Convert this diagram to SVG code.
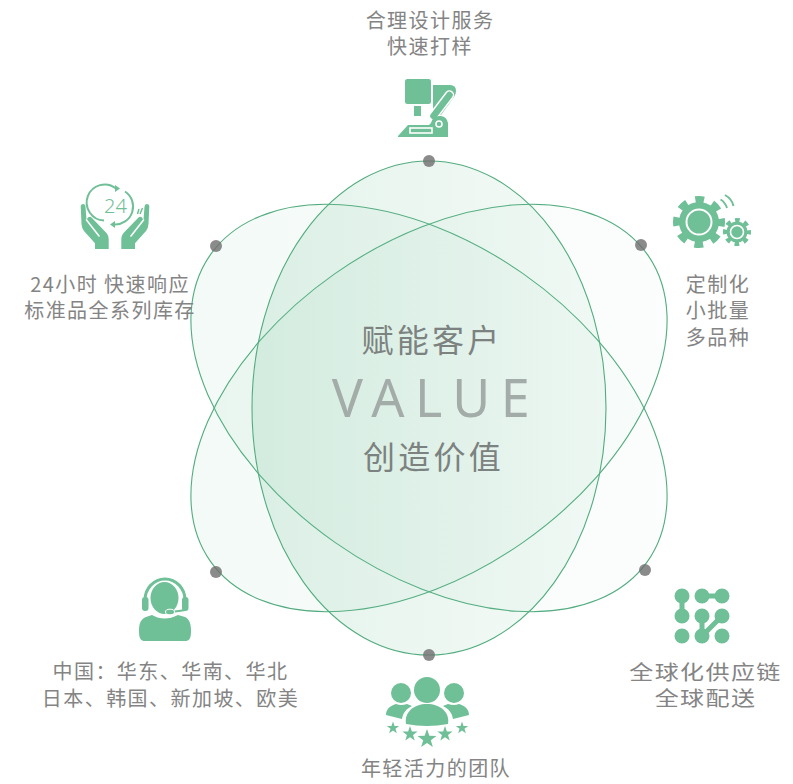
<svg xmlns="http://www.w3.org/2000/svg" width="793" height="784" viewBox="0 0 793 784">
<style>
.t{font-family:"Noto Sans CJK SC","Noto Sans",sans-serif;font-size:20px;letter-spacing:1.45px;fill:#848484;text-anchor:middle;font-weight:400}
.c{font-size:32px;letter-spacing:3.2px;fill:#7c8280}
.v{font-family:"Noto Sans","Noto Sans CJK SC",sans-serif;font-size:52px;letter-spacing:10.500px;fill:#a3aca8;text-anchor:middle;font-weight:400}
.i{fill:#6fbf97}
.w{fill:none;stroke:#fff}
.l{fill:none;stroke:#6fbf97}
.p{fill:#6e6e6e;fill-opacity:.8}
.e{stroke:#52ac7f;stroke-width:1.1}
</style>
<defs>
<linearGradient id="g1" gradientUnits="userSpaceOnUse" x1="252" y1="0" x2="606" y2="0">
<stop offset="0" stop-color="#6fbf97" stop-opacity=".19"/>
<stop offset="1" stop-color="#6fbf97" stop-opacity=".07"/>
</linearGradient>
<linearGradient id="g2" gradientUnits="userSpaceOnUse" x1="191" y1="0" x2="667" y2="0" gradientTransform="rotate(55 429 408)">
<stop offset="0" stop-color="#6fbf97" stop-opacity=".08"/>
<stop offset="1" stop-color="#6fbf97" stop-opacity=".025"/>
</linearGradient>
<linearGradient id="g3" gradientUnits="userSpaceOnUse" x1="191" y1="0" x2="667" y2="0" gradientTransform="rotate(-55 429 408)">
<stop offset="0" stop-color="#6fbf97" stop-opacity=".08"/>
<stop offset="1" stop-color="#6fbf97" stop-opacity=".025"/>
</linearGradient>
<polygon id="star" points="0,-1 .235,-.325 .951,-.309 .38,.124 .588,.809 0,.4 -.588,.809 -.38,.124 -.951,-.309 -.235,-.325"/>
</defs>
<rect width="793" height="784" fill="#fff"/>
<g id="petals">
<ellipse class="e" fill="url(#g2)" cx="429" cy="408" rx="164" ry="267" transform="rotate(-55 429 408)"/>
<ellipse class="e" fill="url(#g3)" cx="429" cy="408" rx="164" ry="267" transform="rotate(55 429 408)"/>
<ellipse class="e" fill="url(#g1)" cx="429" cy="408" rx="177" ry="247"/>
</g>
<g id="connectors">
<circle class="p" cx="429" cy="161" r="6"/>
<circle class="p" cx="641" cy="245" r="6"/>
<circle class="p" cx="645" cy="570" r="6"/>
<circle class="p" cx="429" cy="655" r="6"/>
<circle class="p" cx="216" cy="572" r="6"/>
<circle class="p" cx="216" cy="246" r="6"/>
</g>
<g id="center">
<text class="t c" x="432" y="352">赋能客户</text>
<text class="v" x="436" y="417">VALUE</text>
<text class="t c" x="433.500" y="469">创造价值</text>
</g>
<g id="node-design">
<rect class="i" x="405" y="79" width="26" height="25" rx="2.500"/>
<rect class="i" x="414" y="106" width="7" height="10"/>
<path class="i" d="M433 85H450Q456 85 456 91 456 94 454 97L441 115H433Z"/>
<path class="w" d="M433.500 116L449.500 95" stroke-width="9.500" stroke-linecap="round"/>
<path class="l" d="M433.500 116L449.500 95" stroke-width="6.500" stroke-linecap="round"/>
<path class="i" d="M398 137V136L408 125H429L431 123Q433 115 441 116 447 117 448 123V137Z"/>
<rect class="w" x="410" y="128" width="22" height="5" stroke-width="1.6"/>
<circle class="w" cx="439" cy="124" r="3" stroke-width="1.6"/>
<text class="t" x="430" y="28">合理设计服务</text>
<text class="t" x="430" y="54">快速打样</text>
</g>
<g id="node-custom">
<circle class="i" cx="699" cy="222" r="20"/>
<circle class="l" cx="699" cy="222" r="22.500" stroke-width="7" stroke-dasharray="8.836 8.836" stroke-dashoffset="4.418"/>
<circle class="w" cx="699" cy="222" r="12.500" stroke-width="2"/>
<circle class="i" cx="737" cy="232" r="10.500"/>
<circle class="l" cx="737" cy="232" r="12" stroke-width="4" stroke-dasharray="4.712 4.712" stroke-dashoffset="2.356"/>
<circle class="w" cx="737" cy="232" r="6.500" stroke-width="1.600"/>
<path class="l" d="M725 195Q732 199 733.500 206M720.500 199.500Q725 202 727 208" stroke-width="2"/>
<text class="t" x="718" y="292">定制化</text>
<text class="t" x="718" y="318">小批量</text>
<text class="t" x="718" y="345">多品种</text>
</g>
<g id="node-24h">
<path class="l" d="M104 220.500A18 18 0 1 1 116 188.500M125 191.500A18 18 0 0 1 114 224.500" stroke-width="2"/>
<path class="i" d="M115 185L120 188.500 115 192ZM115 221L110 224.500 115 228Z"/>
<text x="115.500" y="212.500" font-family="Noto Sans,sans-serif" font-size="20" font-weight="300" fill="#6fbf97" text-anchor="middle">24</text>
<g id="hand">
<path class="i" d="M80.700 206Q81 204 83.300 204 85.300 204 85.500 206.700L86.500 220 88 217.500Q90 216 92 218L106.700 233.300Q108.700 236 108.700 239V249H95V243.300L84 231Q81.700 228 81.500 224Z"/>
<path class="w" d="M86.500 220L99 236" stroke-width="1.600" stroke-linecap="round"/>
</g>
<use href="#hand" transform="translate(230 0) scale(-1 1)"/>
<path class="l" d="M139 209L137.500 214M142.500 208L140 214" stroke-width="1.500"/>
<text class="t" x="110" y="292">24小时 快速响应</text>
<text class="t" x="110" y="318">标准品全系列库存</text>
</g>
<g id="node-team">
<circle class="i" cx="427" cy="690" r="13"/>
<path class="i" d="M406 724C404 712 414 704 427 704 440 704 450 712 448 724Q427 728 406 724Z"/>
<circle class="i" cx="401" cy="693" r="10"/>
<path class="i" d="M386 715C386 709 390 706 396 704Q401 706 407 704L412 706C406 709 403 713 402 719Z"/>
<circle class="i" cx="454" cy="693" r="10"/>
<path class="i" d="M469 715C469 709 465 706 459 704Q454 706 448 704L443 706C449 709 452 713 453 719Z"/>
<use href="#star" class="i" transform="translate(393 728) scale(6.500)"/>
<use href="#star" class="i" transform="translate(410 734) scale(8)"/>
<use href="#star" class="i" transform="translate(427 739) scale(10)"/>
<use href="#star" class="i" transform="translate(445 734) scale(8)"/>
<use href="#star" class="i" transform="translate(462 728) scale(6.500)"/>
<text class="t" x="436" y="776">年轻活力的团队</text>
</g>
<g id="node-supply">
<circle class="i" cx="682" cy="596" r="7.500"/><circle class="i" cx="702" cy="596" r="7.500"/><circle class="i" cx="722" cy="596" r="7.500"/>
<circle class="i" cx="682" cy="616" r="7.500"/><circle class="i" cx="702" cy="616" r="7.500"/><circle class="i" cx="722" cy="616" r="7.500"/>
<circle class="i" cx="682" cy="636" r="7.500"/><circle class="i" cx="702" cy="636" r="7.500"/><circle class="i" cx="722" cy="636" r="7.500"/>
<path class="l" d="M682 596V616M702 596H722M702 616V636M722 616L702 636" stroke-width="5"/>
<text class="t" transform="translate(705.500 680) scale(1.2 1)" style="letter-spacing:1.2px">全球化供应链</text>
<text class="t" transform="translate(705.500 706) scale(1.2 1)" style="letter-spacing:1.2px">全球配送</text>
</g>
<g id="node-service">
<ellipse class="i" cx="164.500" cy="598" rx="14" ry="16"/>
<path class="l" d="M145 602V600A20 21 0 0 1 185 600V602" stroke-width="3"/>
<rect class="i" x="142" y="597" width="6.500" height="14" rx="3"/>
<rect class="i" x="182" y="597" width="6.500" height="14" rx="3"/>
<path class="l" d="M185 610Q180 611 170 612" stroke-width="2"/>
<ellipse class="i" cx="170" cy="612" rx="4.500" ry="2.800" stroke="#fff" stroke-width="1"/>
<path class="i" d="M139 631C139 623 141 619 146 617L152 615Q164 622 178 615L185 617C189 619 191 623 191 631 191 639 189 641 185 641H145C141 641 139 639 139 631Z"/>
<text class="t" x="170.500" y="679">中国：华东、华南、华北</text>
<text class="t" x="170.500" y="706">日本、韩国、新加坡、欧美</text>
</g>
</svg>
